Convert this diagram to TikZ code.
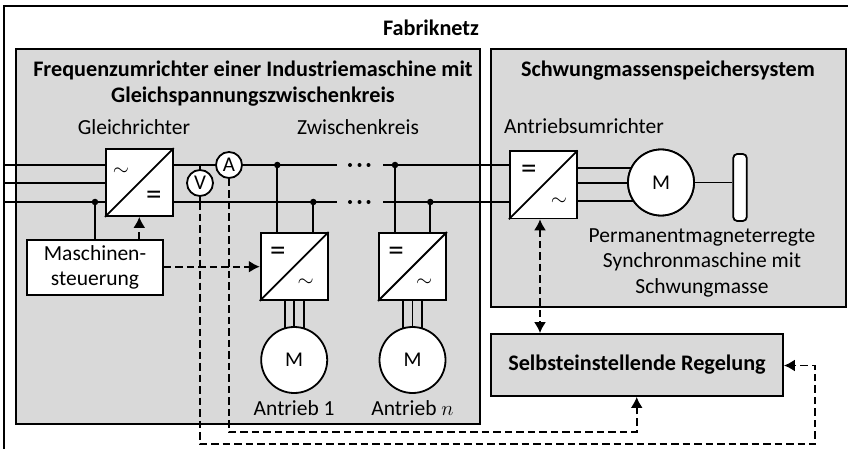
\documentclass[tikz,border=0pt]{standalone}
\usepackage{fontspec}
\setmainfont{Carlito}
\usetikzlibrary{arrows.meta}
\definecolor{kasten}{HTML}{D9D9D9}
\tikzset{
  leitung/.style={line width=1.8pt},
  signal/.style={line width=1.8pt, dash pattern=on 7.5pt off 4pt, >={Latex[length=11pt,width=12pt]}},
  block/.style={draw, line width=1.8pt, fill=kasten},
  umrichter/.style={draw, line width=1.8pt, fill=white, minimum size=67pt, inner sep=0pt},
  maschine/.style={draw, circle, line width=1.8pt, fill=white, minimum size=66pt, inner sep=0pt, font=\fontsize{21}{24}\selectfont},
  messung/.style={draw, circle, line width=1.8pt, fill=white, minimum size=26pt, inner sep=0pt, font=\fontsize{21}{24}\selectfont},
  punkt/.style={circle, fill=black, minimum size=6.5pt, inner sep=0pt},
  pktchen/.style={circle, fill=black, minimum size=4pt, inner sep=0pt},
  txt/.style={align=center, inner sep=0pt, font=\fontsize{21.5}{25.5}\selectfont},
  titel/.style={txt, font=\fontsize{22.2}{25.5}\selectfont\bfseries},
  zeichen/.style={inner sep=0pt, font=\fontsize{31}{31}\selectfont},
}
\begin{document}
\begin{tikzpicture}[x=1pt, y=-1pt]
      \useasboundingbox (0,0) rectangle (848,449);
      \coordinate (nu) at (4,449);
      \coordinate (nl) at (4,6);
      \coordinate (nr) at (848,6);
      \draw[leitung]    (nu) -- (nl) -- (nr);
      \node[titel]      (fab) at (431,28) {Fabriknetz};
      \node[block, minimum width=464pt, minimum height=375pt] (fu) at (248,236.5) {};
      \node[block, minimum width=354.5pt, minimum height=258pt] (sm) at (668.5,178) {};
      \node[block, minimum width=292pt, minimum height=62pt] (reg) at (637,365) {};
      \node[titel]      (fut) at (253,83.5) {Frequenzumrichter einer Industriemaschine mit\\Gleichspannungszwischenkreis};
      \node[titel]      (smt) at (668,71) {Schwungmassenspeichersystem};
      \node[titel]      (regt) at (637,365) {Selbsteinstellende Regelung};
      \node[txt]        (grt) at (134,127) {Gleichrichter};
      \node[txt]        (zkt) at (358,127) {Zwischenkreis};
      \node[txt]        (aut) at (584,126) {Antriebsumrichter};
      \node[txt]        (pmt) at (702,262.5) {Permanentmagneterregte\\Synchronmaschine mit\\Schwungmasse};
      \coordinate (L1) at (4,165);
      \coordinate (L2) at (4,183);
      \coordinate (L3) at (4,202);
      \coordinate (e1) at (337,165);
      \coordinate (e3) at (337,202);
      \coordinate (f1) at (383,165);
      \coordinate (f3) at (383,202);
      \coordinate (mz) at (661,182.5);
      \node[umrichter]  (gr) at (139.3,182.5) {};
      \node[umrichter]  (au) at (543.3,184.9) {};
      \node[messung]    (A) at (229,165) {A};
      \node[messung]    (V) at (200,183) {V};
      \node[draw, line width=1.8pt, fill=white, txt, minimum width=136pt, minimum height=55pt] (st) at (95,267.5) {Maschinen-\\steuerung};
      \foreach \l in {L1,L2,L3} {
        \draw[leitung]  (\l) -- (gr.west |- \l);
      }
      \draw[leitung]    (gr.east |- L1) -- (A);
      \draw[leitung]    (A) -- (e1);
      \draw[leitung]    (gr.east |- L3) -- (e3);
      \draw[leitung]    (f1) -- (au.west |- f1);
      \draw[leitung]    (f3) -- (au.west |- f3);
      \draw[leitung]    (V) -- (V |- L1);
      \draw[leitung]    (V) -- (V |- L3);
      \node[punkt]      (j0) at (95,202) {};
      \draw[leitung]    (j0) -- (j0 |- st.north);
      \foreach \x/\name/\a/\b/\t in {294.2/ab/277.3/313.3/1, 412.5/an/395/430.3/$n$} {
        \node[umrichter]  (\name) at (\x,266.5) {};
        \coordinate       (z\name) at (\x,360);
        \node[punkt]      (j\name a) at (\a,165) {};
        \node[punkt]      (j\name b) at (\b,202) {};
        \draw[leitung]    (j\name a) -- (j\name a |- \name.north);
        \draw[leitung]    (j\name b) -- (j\name b |- \name.north);
        \draw[leitung]    (\name.south) -- (z\name);
        \draw[leitung]    ([xshift=-9.5pt]\name.south) -- ([xshift=-9.5pt]z\name);
        \draw[leitung]    ([xshift=9.5pt]\name.south) -- ([xshift=9.5pt]z\name);
        \node[maschine]   (m\name) at (z\name) {M};
        \node[txt]        (t\name) at (\x,408) {Antrieb \t};
        \draw[line width=1.8pt] (\name.south west) -- (\name.north east);
        \node[zeichen]    (g\name) at ([shift={(18,22)}]\name.north west) {=};
        \node[txt]        (w\name) at ([shift={(46,51)}]\name.north west) {$\sim$};
      }
      \foreach \y in {165,202} {
        \foreach \x in {350,359.5,368.5} {
          \node[pktchen] (d\x-\y) at (\x,\y) {};
        }
      }
      \draw[line width=1.8pt] (gr.south west) -- (gr.north east);
      \draw[line width=1.8pt] (au.south west) -- (au.north east);
      \node[txt]        (wgr) at ([shift={(16,23.7)}]gr.north west) {$\sim$};
      \node[zeichen]    (ggr) at ([shift={(49,50)}]gr.north west) {=};
      \node[zeichen]    (gau) at ([shift={(20,21)}]au.north west) {=};
      \node[txt]        (wau) at ([shift={(50,51)}]au.north west) {$\sim$};
      \foreach \y in {167.7,182.7,200.7} {
        \draw[leitung]  (au.east |- 0,\y) -- (mz |- 0,\y);
      }
      \node[maschine]   (mau) at (mz) {M};
      \node[draw, line width=1.8pt, fill=white, rounded corners=4pt, minimum width=13.5pt, minimum height=67pt, inner sep=0pt] (sw) at (740,187.5) {};
      \draw[leitung]    (mau) -- (sw.west |- mau);
      \node[maschine]   (mau) at (mz) {M};
      \coordinate (va) at (200,444);
      \coordinate (vb) at (815,444);
      \coordinate (vc) at (815,365.5);
      \coordinate (aa) at (229,432);
      \coordinate (ab2) at (636.7,432);
      \draw[signal, ->] (139.3,0 |- st.north) -- (gr.south -| 139.3,0);
      \draw[signal, ->] (st.east |- 0,266.7) -- (ab.west |- 0,266.7);
      \draw[signal, ->] (V |- L3) -- (va) -- (vb) -- (vc) -- (reg.east |- vc);
      \draw[signal, ->] (A.south) -- (aa) -- (ab2) -- (ab2 |- reg.south);
      \draw[signal, <->] (540,0 |- au.south) -- (540,0 |- reg.north);
    \end{tikzpicture}
\end{document}
